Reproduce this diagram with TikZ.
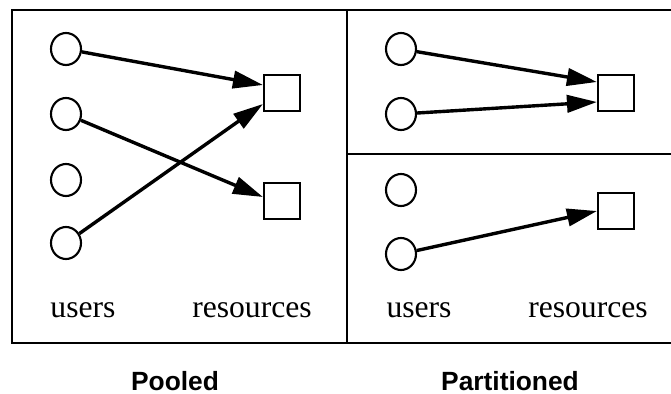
\documentclass[tikz,border=0pt]{standalone}
\usepackage{fontspec}
\setmainfont{Liberation Serif}
\newfontfamily\headfont{Liberation Sans}
\usetikzlibrary{arrows.meta,positioning,shapes.geometric}
\tikzset{
  >={Triangle[length=9mm,width=5.2mm]},
  user/.style={ellipse,draw,line width=1.8pt,minimum width=9mm,minimum height=9.6mm,inner sep=0pt},
  res/.style={rectangle,draw,line width=1.8pt,minimum size=10.8mm,inner sep=0pt},
  link/.style={->,line width=2.9pt},
  frame/.style={line width=2pt},
  lbl/.style={font=\fontsize{27}{30}\selectfont,anchor=base,inner sep=0pt},
  title/.style={font=\headfont\bfseries\fontsize{22.5}{26}\selectfont,anchor=base,inner sep=0pt},
}
\begin{document}
\begin{tikzpicture}[x=0.3mm,y=-0.3mm]
  \useasboundingbox (0,0) rectangle (671,394);
  % frames
  \draw[frame] (12,10) rectangle (347,343);
  \draw[frame] (671,10) -- (347,10) -- (347,343) -- (671,343);
  \draw[frame] (347,154) -- (671,154);
  % pooled
  \foreach \y [count=\i] in {49,114,180,243}
    \node[user] (pu\i) at (66,\y) {};
  \node[res] (pr1) at (282,93) {};
  \node[res] (pr2) at (282,201) {};
  \draw[link] (pu1) -- ([yshift=2.4mm]pr1.west);
  \draw[link] (pu2) -- ([yshift=1.2mm]pr2.west);
  \draw[link] (pu4) -- ([yshift=-3.3mm]pr1.west);
  % partitioned
  \foreach \y [count=\i] in {49,114,190,254}
    \node[user] (qu\i) at (401,\y) {};
  \node[res] (qr1) at (616,93) {};
  \node[res] (qr2) at (616,211) {};
  \draw[link] (qu1) -- ([yshift=3.3mm]qr1.west);
  \draw[link] (qu2) -- ([yshift=-2.7mm]qr1.west);
  \draw[link] (qu4) -- (qr2.west);
  % labels
  \node[lbl] (pl1) at (83,317) {users};
  \node[lbl] (pl2) at (252,317) {resources};
  \node[lbl] (ql1) at (419,317) {users};
  \node[lbl] (ql2) at (588,317) {resources};
  \node[title] (pt) at (175,390) {Pooled};
  \node[title] (qt) at (510,390) {Partitioned};
\end{tikzpicture}
\end{document}
